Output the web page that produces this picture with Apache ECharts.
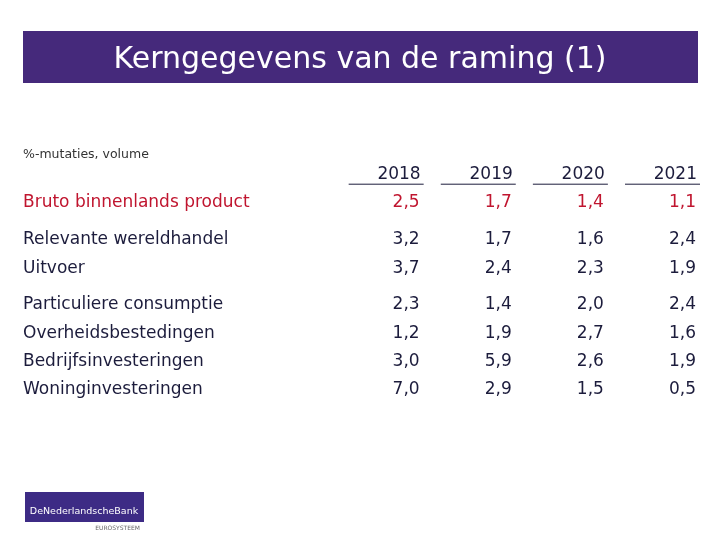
<!DOCTYPE html>
<html>
<head>
<meta charset="utf-8">
<script src="https://cdn.jsdelivr.net/npm/echarts@6/dist/echarts.min.js"></script>
<style>html,body{margin:0;padding:0;background:#fff}#c{width:720px;height:540px}</style>
</head>
<body>
<div id="c"></div>
<script>
var years = ['2018', '2019', '2020', '2021'];
var rowLabels = ['Bruto binnenlands product', 'Relevante wereldhandel', 'Uitvoer',
  'Particuliere consumptie', 'Overheidsbestedingen', 'Bedrijfsinvesteringen', 'Woninginvesteringen'];
var rowGroups = [0, 1, 1, 2, 2, 2, 2];
var v2018 = [2.5, 3.2, 3.7, 2.3, 1.2, 3.0, 7.0];
var v2019 = [1.7, 1.7, 2.4, 1.4, 1.9, 5.9, 2.9];
var v2020 = [1.4, 1.6, 2.3, 2.0, 2.7, 2.6, 1.5];
var v2021 = [1.1, 2.4, 1.9, 2.4, 1.6, 1.9, 0.5];
var titleText = 'Kerngegevens van de raming (1)';
var unitText = '%-mutaties, volume';

var columns = [v2018, v2019, v2020, v2021];
var GROUP_GAP = 0.3;
function rowPos(i) { return i + rowGroups[i] * GROUP_GAP; }

var FONT = '"DejaVu Sans", Verdana, sans-serif';
var DARK = '#1c1c3c';
var RED = '#c0152f';
var PURPLE = '#45297b';
var TABLE_FONT = '17px ' + FONT;

var cellData = [];
columns.forEach(function (col, c) {
  col.forEach(function (v, r) {
    cellData.push([c + 1, rowPos(r), v, r]);
  });
});
var labelData = rowLabels.map(function (l, r) { return [-3.317, rowPos(r), l, r]; });
var headerData = years.map(function (y, c) { return [c + 1, -1, y]; });

function fmt(v) { return v.toFixed(1).replace('.', ','); }

var chart = echarts.init(document.getElementById('c'), null, { renderer: 'canvas' });
chart.setOption({
  backgroundColor: '#ffffff',
  animation: false,
  title: {
    text: titleText,
    left: 'center',
    top: 40,
    textStyle: { color: '#ffffff', fontFamily: FONT, fontSize: 30, fontWeight: 'normal' }
  },
  graphic: [
    { type: 'rect', z: -1, shape: { x: 23, y: 31, width: 675, height: 52 }, style: { fill: PURPLE } },
    { type: 'text', left: 23, top: 148, style: { text: unitText, fill: '#333333', font: '12.5px ' + FONT } },
    { type: 'rect', shape: { x: 25, y: 492, width: 119, height: 30 }, style: { fill: '#3d2b85' } },
    { type: 'text', x: 84, y: 512, style: { text: 'DeNederlandscheBank', fill: '#ffffff', font: '9.5px ' + FONT, align: 'center', verticalAlign: 'middle' } },
    { type: 'text', x: 140, y: 528, style: { text: 'EUROSYSTEEM', fill: '#666666', font: '6px ' + FONT, align: 'right', verticalAlign: 'middle' } }
  ],
  grid: { left: 23, right: 23, top: 146.4, height: 254.7 },
  xAxis: { type: 'value', min: -3.317, max: 4, show: false },
  yAxis: { type: 'value', min: -2, max: 7, inverse: true, show: false },
  series: [
    {
      type: 'custom',
      data: headerData,
      renderItem: function (params, api) {
        var p = api.coord([api.value(0), api.value(1)]);
        return {
          type: 'group',
          children: [
            { type: 'text', x: p[0], y: p[1], style: { text: years[api.value(0) - 1], fill: DARK, font: TABLE_FONT, align: 'right', verticalAlign: 'middle' } },
            { type: 'line', shape: { x1: p[0] - 72, y1: p[1] + 9.5, x2: p[0] + 3, y2: p[1] + 9.5 }, style: { stroke: DARK, lineWidth: 1 } }
          ]
        };
      }
    },
    {
      type: 'custom',
      data: labelData,
      renderItem: function (params, api) {
        var p = api.coord([api.value(0), api.value(1)]);
        var r = api.value(3);
        return { type: 'text', x: p[0], y: p[1], style: { text: rowLabels[r], fill: r === 0 ? RED : DARK, font: TABLE_FONT, align: 'left', verticalAlign: 'middle' } };
      }
    },
    {
      type: 'custom',
      data: cellData,
      renderItem: function (params, api) {
        var p = api.coord([api.value(0), api.value(1)]);
        var r = api.value(3);
        return { type: 'text', x: p[0] - 1, y: p[1], style: { text: fmt(api.value(2)), fill: r === 0 ? RED : DARK, font: TABLE_FONT, align: 'right', verticalAlign: 'middle' } };
      }
    }
  ]
});
</script>
</body>
</html>
